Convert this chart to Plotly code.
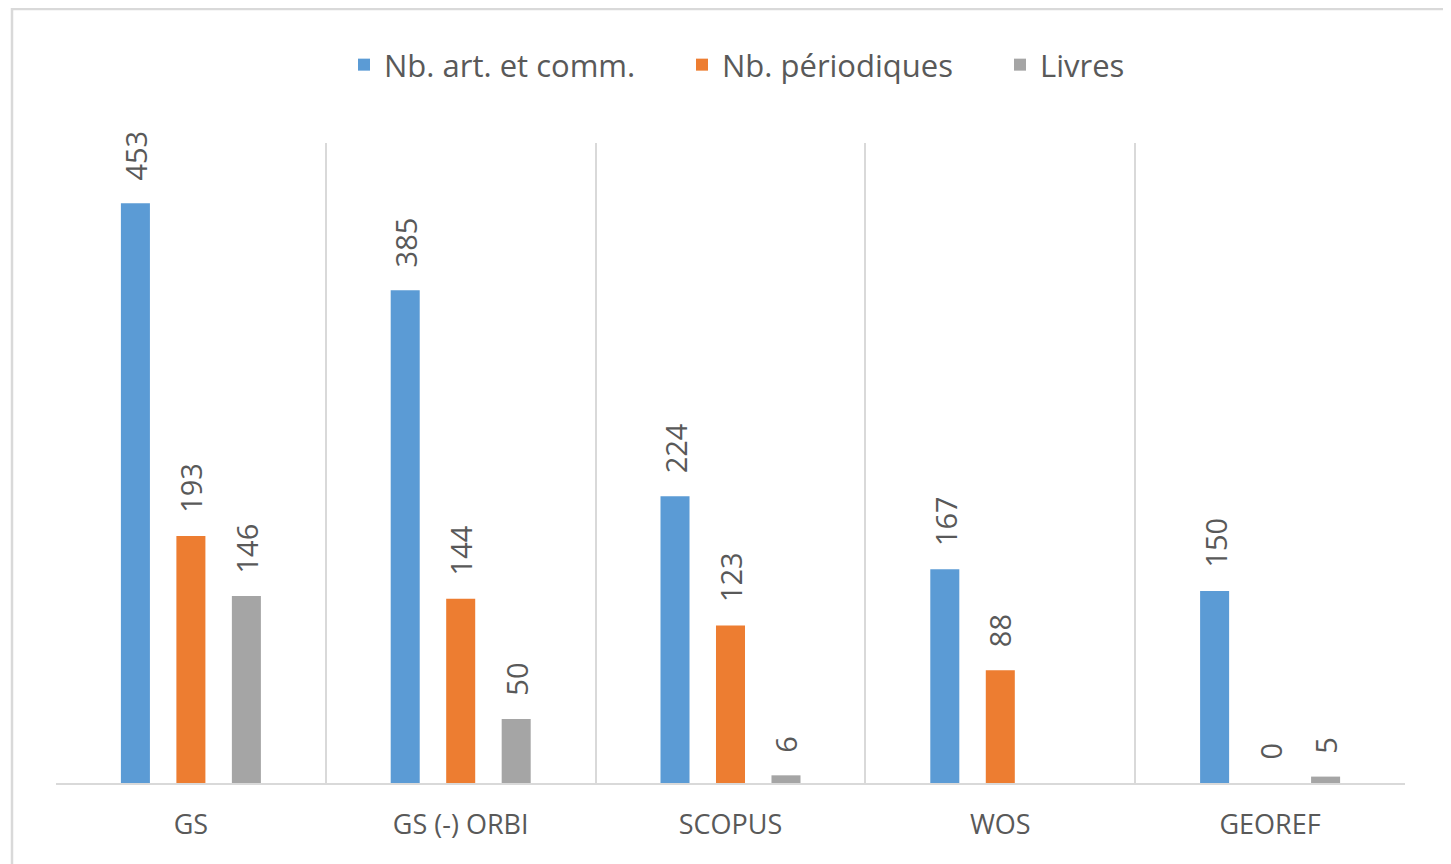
import plotly.graph_objects as go

categories = ["GS", "GS (-) ORBI", "SCOPUS", "WOS", "GEOREF"]
series_names = ["Nb. art. et comm.", "Nb. périodiques", "Livres"]
art_comm = [453, 385, 224, 167, 150]
periodiques = [193, 144, 123, 88, 0]
livres = [146, 50, 6, None, 5]
colors = ["#5B9BD5", "#ED7D31", "#A5A5A5"]

series_values = [art_comm, periodiques, livres]

# page has an 8px body margin
W, H = 1443, 856
ml, mr, mt, mb = 48, 46, 135, 81
pw, ph = W - ml - mr, H - mt - mb

legend_ids = ["legend", "legend2", "legend3"]
legend_text_x = [384, 722, 1040]  # page x where each legend text starts

fig = go.Figure()
for name, vals, col, lid in zip(series_names, series_values, colors, legend_ids):
    fig.add_trace(go.Bar(x=categories, y=vals, name=name, marker_color=col,
                         marker_line_width=0, legend=lid))

cat_w = pw / len(categories)
slot = cat_w * (1 - 0.383) / 3
off = slot / cat_w
annotations = []
for k, vals in enumerate(series_values):
    for i, v in enumerate(vals):
        if v is None:
            continue
        annotations.append(dict(
            x=i + (k - 1) * off, y=v, xref="x", yref="y",
            text=str(v), showarrow=False, textangle=-90,
            xanchor="center", yanchor="bottom", yshift=21,
            font=dict(family="Open Sans", size=29, color="#595959")))

shapes = [dict(type="rect", xref="paper", yref="paper",
               x0=(4 - ml) / pw, x1=(1438 - ml) / pw,
               y0=-0.3, y1=(H - mb - 1) / ph,
               line=dict(color="#D9D9D9", width=2.5), layer="below")]

legend_layout = {}
for lid, tx in zip(legend_ids, legend_text_x):
    fx = tx - 8 - 40
    legend_layout[lid] = dict(
        orientation="h", x=(fx - ml) / pw, xanchor="left",
        y=(H - mb - 57) / ph, yanchor="middle",
        bgcolor="rgba(0,0,0,0)",
        font=dict(family="Open Sans", size=31, color="#595959"),
        itemclick=False, itemdoubleclick=False)

fig.update_layout(
    width=W, height=H,
    margin=dict(l=ml, r=mr, t=mt, b=mb),
    paper_bgcolor="white", plot_bgcolor="white",
    barmode="group", bargap=0.383, bargroupgap=0.477,
    showlegend=True,
    xaxis=dict(type="category", tickson="boundaries", showgrid=True,
               gridcolor="#D9D9D9", gridwidth=2, showline=True,
               linecolor="#D9D9D9", linewidth=2, ticks="",
               ticklabelstandoff=17,
               tickfont=dict(family="Open Sans", size=27, color="#595959")),
    yaxis=dict(range=[0, 500], visible=False, showgrid=False, zeroline=False),
    annotations=annotations,
    shapes=shapes,
    **legend_layout,
)

fig.write_html("out.html")
